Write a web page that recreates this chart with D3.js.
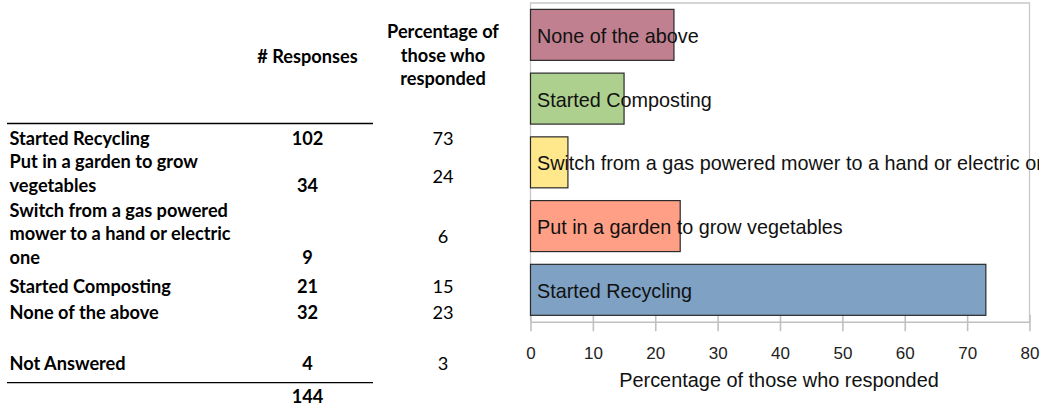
<!DOCTYPE html>
<html>
<head>
<meta charset="utf-8">
<script src="https://cdn.jsdelivr.net/npm/d3@7"></script>
<style>
  html, body { margin: 0; padding: 0; background: #fff; overflow: hidden; }
  svg { display: block; }
</style>
</head>
<body>
<svg id="chart" width="1055" height="406"></svg>
<script>
// ---------------- DATA ----------------
const categories = [
  "Started Recycling",
  "Put in a garden to grow vegetables",
  "Switch from a gas powered mower to a hand or electric one",
  "Started Composting",
  "None of the above"
];
const responses = [102, 34, 9, 21, 32];
const percentages = [73, 24, 6, 15, 23];
const tableLabelLines = [
  ["Started Recycling"],
  ["Put in a garden to grow", "vegetables"],
  ["Switch from a gas powered", "mower to a hand or electric", "one"],
  ["Started Composting"],
  ["None of the above"]
];
const notAnsweredLabel = "Not Answered";
const notAnsweredResponses = 4;
const notAnsweredPercentage = 3;
const totalResponses = 144;
const headerResponses = ["# Responses"];
const headerPercentage = ["Percentage of", "those who", "responded"];
const xTicks = [0, 10, 20, 30, 40, 50, 60, 70, 80];
const xTitle = "Percentage of those who responded";
const barColors = ["#7EA1C4", "#FFA086", "#FFE88C", "#ADD08E", "#C0808F"];

// ---------------- LAYOUT ----------------
const svg = d3.select("#chart");
const tableFont = "Lato, 'Open Sans', sans-serif";
const chartFont = "'Liberation Sans', Arial, sans-serif";
const tfs = 18.2;
const colLabelX = 9.5, colCountX = 307.5, colPctX = 443;
const lineH = 23.5;
const rowFirstBaseline = [145, 168.3, 216.5, 292.7, 319.3];
const notAnsweredBaseline = 370;

const table = svg.append("g").attr("font-family", tableFont).attr("font-size", tfs).attr("fill", "#000");

// headers
table.append("text").attr("x", colCountX).attr("y", 62.7).attr("text-anchor", "middle")
  .attr("font-weight", "bold").text(headerResponses[0]);
headerPercentage.forEach((t, i) => {
  table.append("text").attr("x", colPctX).attr("y", 38 + i * lineH).attr("text-anchor", "middle")
    .attr("font-weight", "bold").text(t);
});
// rules
table.append("line").attr("x1", 7).attr("x2", 373).attr("y1", 123.5).attr("y2", 123.5)
  .attr("stroke", "#000").attr("stroke-width", 1.3);
table.append("line").attr("x1", 7).attr("x2", 373).attr("y1", 382.7).attr("y2", 382.7)
  .attr("stroke", "#000").attr("stroke-width", 1.3);

tableLabelLines.forEach((lines, r) => {
  const y0 = rowFirstBaseline[r];
  lines.forEach((t, i) => {
    table.append("text").attr("x", colLabelX).attr("y", y0 + i * lineH)
      .attr("font-weight", "bold").text(t);
  });
  const last = y0 + (lines.length - 1) * lineH;
  const mid = (y0 + last) / 2 + (lines.length > 1 ? 2.5 : 0);
  table.append("text").attr("x", colCountX).attr("y", last).attr("text-anchor", "middle")
    .attr("font-weight", "bold").text(responses[r]);
  table.append("text").attr("x", colPctX).attr("y", mid).attr("text-anchor", "middle")
    .text(percentages[r]);
});
table.append("text").attr("x", colLabelX).attr("y", notAnsweredBaseline).attr("font-weight", "bold").text(notAnsweredLabel);
table.append("text").attr("x", colCountX).attr("y", notAnsweredBaseline).attr("text-anchor", "middle")
  .attr("font-weight", "bold").text(notAnsweredResponses);
table.append("text").attr("x", colPctX).attr("y", notAnsweredBaseline).attr("text-anchor", "middle")
  .text(notAnsweredPercentage);
table.append("text").attr("x", colCountX).attr("y", 403).attr("text-anchor", "middle")
  .attr("font-weight", "bold").text(totalResponses);

// ---------------- CHART ----------------
const plot = { left: 530.5, right: 1029.5, top: 3, bottom: 321.7 };
const x = d3.scaleLinear().domain([0, 80]).range([plot.left, plot.right]);
const y = d3.scaleBand().domain(categories.slice().reverse()).range([plot.top, plot.bottom])
  .paddingInner(0.2).paddingOuter(0.1);

const chart = svg.append("g").attr("font-family", chartFont);

// frame
chart.append("path")
  .attr("d", `M${plot.left},${plot.bottom} V${plot.top} H${plot.right} V${plot.bottom}`)
  .attr("fill", "none").attr("stroke", "#c8c8c8").attr("stroke-width", 1.3);

// axis
const axis = chart.append("g").attr("transform", `translate(0,${plot.bottom})`)
  .call(d3.axisBottom(x).tickValues(xTicks).tickSize(9.5).tickSizeOuter(0).tickPadding(16));
axis.select(".domain").attr("stroke", "#c0c0c0").attr("stroke-width", 1.6);
axis.selectAll(".tick line").attr("stroke", "#c0c0c0").attr("stroke-width", 1.6).attr("y1", -7);
axis.selectAll(".tick text").attr("font-family", chartFont).attr("font-size", 17).attr("fill", "#222");

chart.append("text").attr("x", (plot.left + plot.right) / 2 - 1).attr("y", 387)
  .attr("text-anchor", "middle").attr("font-size", 19.9).attr("fill", "#111").text(xTitle);

// bars
chart.selectAll("rect.bar").data(categories).join("rect").attr("class", "bar")
  .attr("x", x(0)).attr("y", d => y(d))
  .attr("width", (d, i) => x(percentages[i]) - x(0))
  .attr("height", y.bandwidth())
  .attr("fill", (d, i) => barColors[i])
  .attr("stroke", "#2a2a2a").attr("stroke-width", 1.2);

svg.append("defs").append("clipPath").attr("id", "labelClip")
  .append("rect").attr("x", 0).attr("y", 0).attr("width", 1039).attr("height", 406);

chart.append("g").attr("clip-path", "url(#labelClip)")
  .selectAll("text.lbl").data(categories).join("text").attr("class", "lbl")
  .attr("x", x(0) + 6.5).attr("y", d => y(d) + y.bandwidth() / 2)
  .attr("dy", "0.4em").attr("font-size", 19.8).attr("fill", "#111")
  .text(d => d);
</script>
</body>
</html>
